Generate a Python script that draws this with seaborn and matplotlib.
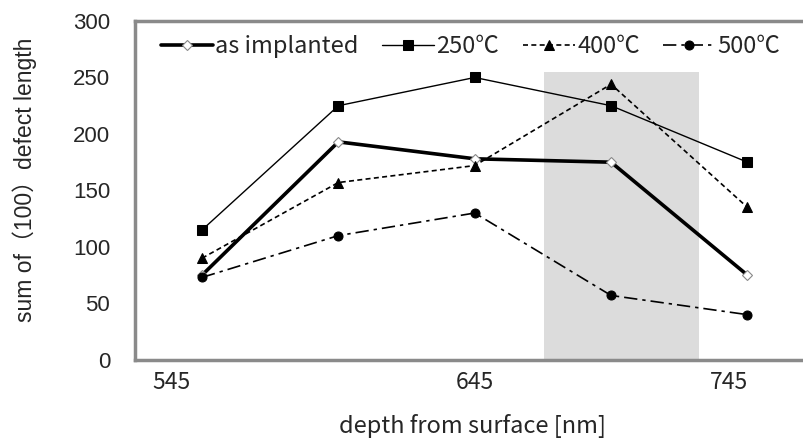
import matplotlib
matplotlib.use("Agg")
import matplotlib.pyplot as plt
import seaborn as sns
import pandas as pd

# depth of each bin [nm]
depth = [555, 600, 645, 690, 735]
as_implanted = [75, 193, 178, 175, 75]
t250 = [115, 225, 250, 225, 175]
t400 = [90, 157, 172, 244, 135]
t500 = [73, 110, 130, 57, 40]

series_names = ["as implanted", "250℃", "400℃", "500℃"]
xtick_pos = [545, 645, 729]
xtick_labels = ["545", "645", "745"]
yticks = [0, 50, 100, 150, 200, 250, 300]
shade_span = (668, 719)
shade_top = 255

df = pd.DataFrame({
    "depth": depth * 4,
    "length": as_implanted + t250 + t400 + t500,
    "series": [s for s in series_names for _ in depth],
})

sns.set_style("white")
plt.rcParams["font.family"] = ["Liberation Sans", "Noto Sans CJK JP", "DejaVu Sans"]

fig = plt.figure(figsize=(8.04, 4.47), dpi=100)
ax = fig.add_axes([0.168, 0.195, 0.84, 0.758])

# shaded depth window
ax.fill_between(shade_span, 0, shade_top, color="#dcdcdc", lw=0, zorder=0)

styles = {
    "as implanted": dict(lw=2.6, marker="D", ms=5.5, mfc="white", mec="#888888", mew=0.8,
                         linestyle="-"),
    "250℃": dict(lw=1.0, marker="s", ms=7, mfc="black", mec="black", linestyle="-"),
    "400℃": dict(lw=1.2, marker="^", ms=7.5, mfc="black", mec="black",
                 linestyle=(0, (3, 2))),
    "500℃": dict(lw=1.2, marker="o", ms=6.5, mfc="black", mec="black",
                 linestyle=(0, (8, 3, 2, 3))),
}
for name in series_names:
    sub = df[df["series"] == name]
    sns.lineplot(data=sub, x="depth", y="length", ax=ax, color="black", label=name,
                 zorder=3, **styles[name])

ax.set_xlim(532.9, 755.8)
ax.set_ylim(0, 300)
ax.set_yticks(yticks)
ax.set_xticks(xtick_pos)
ax.set_xticklabels(xtick_labels, family=["Liberation Sans Narrow", "Noto Sans CJK JP"],
                   fontsize=16.5)
ax.tick_params(axis="x", length=0, pad=8)
ax.tick_params(axis="y", direction="in", length=6, width=0.8, color="#555555",
               labelsize=16, pad=18)

for side in ["left", "bottom", "top", "right"]:
    ax.spines[side].set_color("#8a8a8a")
    ax.spines[side].set_linewidth(2.5)

ax.set_xlabel("depth from surface [nm]", fontsize=17, family=["Noto Sans CJK JP"])
ax.set_ylabel("sum of（100）defect length", fontsize=16.5)
ax.xaxis.set_label_coords(0.5, -0.16)
ax.yaxis.set_label_coords(-0.145, 0.53)

leg = ax.legend(loc="upper left", bbox_to_anchor=(0.017, 1.0), ncol=4, frameon=False,
                handlelength=2.2, handletextpad=0.1, columnspacing=1.0,
                prop={"family": ["Noto Sans CJK JP"], "size": 17}, borderaxespad=0.2)

fig.savefig("out.png", dpi=100)
